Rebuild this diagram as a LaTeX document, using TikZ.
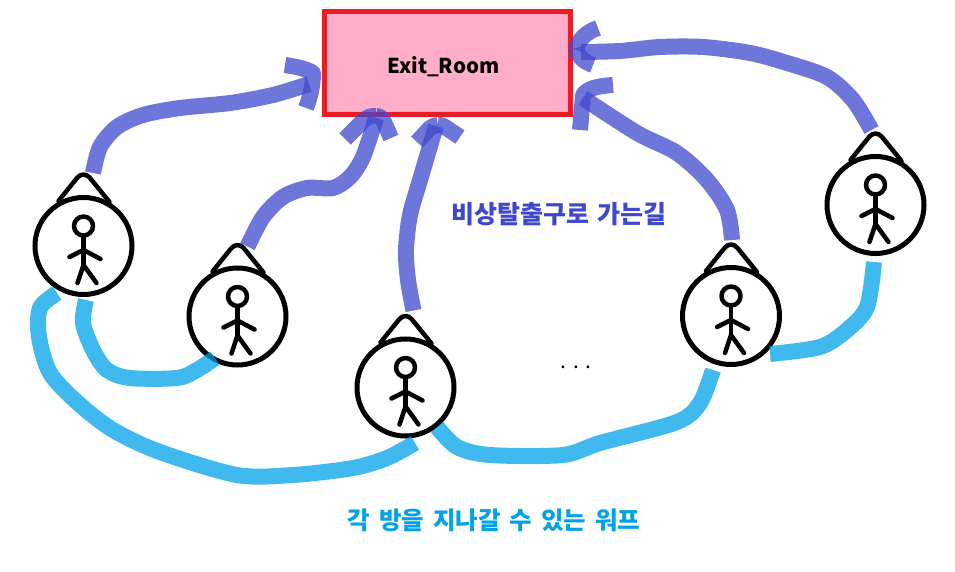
\documentclass[tikz,border=0pt]{standalone}
\usepackage{fontspec}
\setmainfont{Noto Sans CJK KR}
\usetikzlibrary{calc}
\definecolor{pathblue}{HTML}{3F48CC}
\definecolor{warpcyan}{HTML}{00A2E8}
\definecolor{roomred}{HTML}{ED1C24}
\definecolor{roompink}{HTML}{FFAEC9}
\tikzset{
  room/.style={draw=roomred,fill=roompink,line width=5pt,minimum width=246pt,minimum height=103pt,inner sep=0pt},
  person/.style={circle,draw=black,line width=5pt,minimum size=97pt,inner sep=0pt},
  figline/.style={draw=black,line width=4.5pt,line cap=round,line join=round},
  route/.style={draw=pathblue,opacity=.75,line width=16pt,line join=round},
  warp/.style={draw=warpcyan,opacity=.75,line width=16pt,line join=round},
  caption/.style={inner sep=0pt}
}
\begin{document}
\begin{tikzpicture}[x=1pt,y=-1pt]
\useasboundingbox (0,0) rectangle (955,572);
\node[room] (exit) at (447,63) {};
\node[inner sep=0pt,font=\bfseries\fontsize{20.5}{24}\selectfont] (exitlabel) at (443.5,67) {Exit\_Room};
\foreach \n/\x/\y in {p1/83.5/246,p2/237.5/316.5,p3/405.5/387.5,p4/731/316,p5/875.5/205}{
  \node[person] (\n) at (\x,\y) {};
  \begin{scope}[shift={(\n)}]
    \draw[figline,rounded corners=10pt] (-25,-45) -- (0,-76) -- (26,-44);
    \draw[figline] (0,-20) circle (9.5);
    \draw[figline] (0,-10) -- (0,19);
    \draw[figline] (-14,11) -- (0,4) -- (17,13);
    \draw[figline] (-6,37) -- (0,19) -- (13,37);
  \end{scope}
}
% named ends of connectors
\coordinate (sA) at ($(p1)+(9.5,-73)$);
\coordinate (tA) at (309,84);
\coordinate (sB) at ($(p2)+(10,-70)$);
\coordinate (tB) at (376,118);
\coordinate (sC) at ($(p3)+(8,-77)$);
\coordinate (tC) at (436,126);
\coordinate (sD) at ($(p4)+(1,-76)$);
\coordinate (tD) at (583,98);
\coordinate (sE) at ($(p5)+(-4,-75)$);
\coordinate (tE) at (581,52);
% routes to the exit
\draw[route] plot[smooth] coordinates {(sA) (100,147) (117,127) (143,115) (180,108) (230,103) (273,95) (tA)};
\draw[route] (285,65) .. controls (298,67) and (307,69) .. (313,73) .. controls (313,83) and (311,95) .. (306,108) ;
\draw[route] plot[smooth] coordinates {(sB) (263,217) (283,197) (307,188) (333,188) (350,177) (363,157) (tB)};
\draw[route] (345,139) -- (362,122) .. controls (368,116) and (372,116) .. (376,116);
\draw[route] (376,116) .. controls (380,116) and (382,118) .. (384,122) -- (391,138);
\draw[route] plot[smooth] coordinates {(sC) (408,280) (406,250) (410,215) (420,180) (tC)};
\draw[route] (417,142) -- (430,128) .. controls (433,126) and (435,125) .. (438,125);
\draw[route] (438,125) .. controls (441,125) and (443,125) .. (445,127) -- (460,137);
\draw[route] plot[smooth] coordinates {(sD) (727,210) (707,180) (677,153) (637,133) (tD)};
\draw[route] (613,85) .. controls (598,86) and (588,88) .. (583,95) -- (580,130);
\draw[route] plot[smooth] coordinates {(sE) (853,100) (827,77) (787,63) (750,53) (703,47) (660,47) (620,51) (tE)};
\draw[route] (598,28) .. controls (586,32) and (578,40) .. (576,50);
\draw[route] (576,48) .. controls (578,57) and (584,62) .. (593,65);
% warps
\draw[warp] plot[smooth] coordinates {(86,300) (83,323) (93,350) (107,370) (130,378) (177,378) (197,370) (215,358)};
\draw[warp] plot[smooth] coordinates {(57,293) (40,308) (39,337) (50,373) (78,403) (113,430) (160,452) (237,475) (293,475) (353,468) (387,458) (415,443)};
\draw[warp] plot[smooth] coordinates {(437,427) (457,447) (490,455) (563,455) (600,443) (677,422) (700,403) (713,370)};
\draw[warp] plot[smooth] coordinates {(770,354) (820,347) (847,330) (867,307) (874,262)};
% texts
\node[caption,text=pathblue,font=\bfseries\fontsize{25}{28}\selectfont] (t1) at (558.5,214) {\spaceskip=8pt\relax 비상탈출구로 가는길};
\node[caption,text=warpcyan,font=\bfseries\fontsize{24.5}{28}\selectfont] (t2) at (494,520) {\spaceskip=9pt\relax 각 방을 지나갈 수 있는 워프};
\node[inner sep=0pt,font=\fontsize{21}{24}\selectfont] (dots) at (576,367) {. . .};
\end{tikzpicture}
\end{document}
